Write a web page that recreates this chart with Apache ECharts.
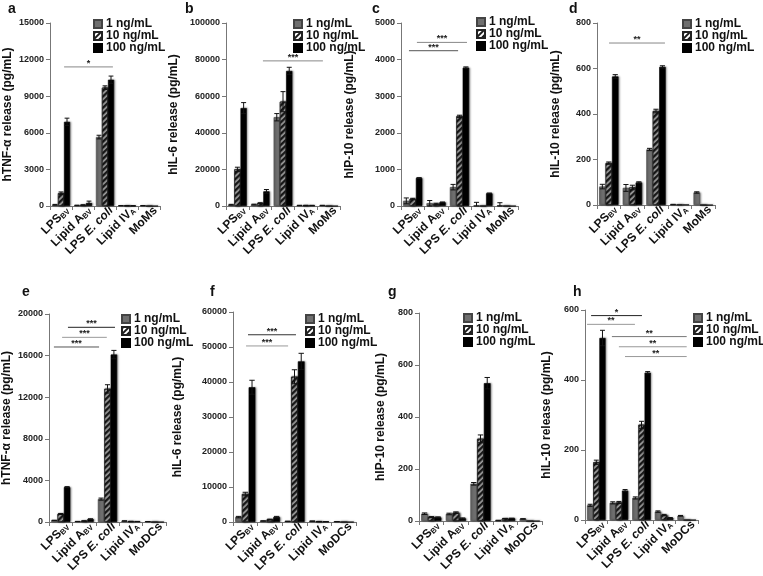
<!DOCTYPE html>
<html><head><meta charset="utf-8">
<script src="https://cdn.jsdelivr.net/npm/echarts@6/dist/echarts.min.js"></script>
<style>html,body{margin:0;padding:0;background:#fff}#c{width:763px;height:576px}</style>
</head><body><div id="c"></div><script>
// ---------- DATA ----------
const catsMoM = ['LPS BV', 'Lipid A BV', 'LPS E. coli', 'Lipid IV A', 'MoMs'];
const catsMoDC = ['LPS BV', 'Lipid A BV', 'LPS E. coli', 'Lipid IV A', 'MoDCs'];
const doseNames = ['1 ng/mL', '10 ng/mL', '100 ng/mL'];
const panelLetters = ['a', 'b', 'c', 'd', 'e', 'f', 'g', 'h'];
const yTitles = ['hTNF-α release (pg/mL)', 'hIL-6 release (pg/mL)', 'hIP-10 release (pg/mL)', 'hIL-10 release (pg/mL)',
                 'hTNF-α release (pg/mL)', 'hIL-6 release (pg/mL)', 'hIP-10 release (pg/mL)', 'hIL-10 release (pg/mL)'];
const yMax = [15000, 100000, 5000, 800, 20000, 60000, 800, 600];
const yStep = [3000, 20000, 1000, 200, 4000, 10000, 200, 200];

// a: TNF-a, MoMs
const a1 = [100, 50, 5650, 30, 30];      const a1e = [30, 20, 150, 10, 10];
const a10 = [1050, 80, 9700, 30, 0];     const a10e = [100, 20, 150, 10, 0];
const a100 = [6900, 250, 10350, 20, 0];  const a100e = [300, 150, 300, 10, 0];
const aSig = [[0.14, 2.36, 11400, '*']];
// b: IL-6, MoMs
const b1 = [700, 800, 48500, 300, 300];   const b1e = [200, 200, 2000, 100, 100];
const b10 = [20000, 1500, 57000, 300, 0]; const b10e = [1200, 300, 5500, 100, 0];
const b100 = [53500, 8000, 73800, 300, 0];const b100e = [3000, 1000, 2000, 100, 0];
const bSig = [[1.12, 3.75, 79300, '***']];
// c: IP-10, MoMs
const c1 = [140, 75, 515, 10, 20];    const c1e = [80, 75, 75, 90, 70];
const c10 = [190, 55, 2450, 0, 0];    const c10e = [20, 20, 30, 0, 0];
const c100 = [765, 100, 3780, 345, 0];const c100e = [10, 10, 20, 10, 0];
const cSig = [[0.18, 2.32, 4470, '***'], [-0.16, 1.94, 4243, '***']];
// d: IL-10, MoMs
const d1 = [81, 75, 244, 2, 55];   const d1e = [10, 15, 5, 1, 3];
const d10 = [184, 77, 413, 2, 0];  const d10e = [5, 10, 8, 0, 0];
const d100 = [565, 99, 607, 2, 0]; const d100e = [8, 3, 5, 0, 0];
const dSig = [[0.01, 2.38, 712, '**']];
// e: TNF-a, MoDCs
const e1 = [150, 50, 2200, 100, 40];     const e1e = [20, 10, 100, 10, 5];
const e10 = [770, 100, 12800, 60, 0];    const e10e = [50, 20, 400, 10, 0];
const e100 = [3350, 280, 16100, 50, 0];  const e100e = [50, 30, 400, 10, 0];
const eSig = [[0.31, 2.32, 18720, '***'], [0.06, 1.97, 17756, '***'], [-0.29, 1.64, 16827, '***']];
// f: IL-6, MoDCs
const f1 = [1400, 300, 200, 250, 100];    const f1e = [200, 50, 50, 50, 20];
const f10 = [8000, 700, 41500, 150, 0];   const f10e = [500, 100, 2000, 20, 0];
const f100 = [38500, 1400, 45900, 100, 0];const f100e = [2000, 200, 2300, 20, 0];
const fSig = [[0.11, 2.06, 53500, '***'], [0.03, 1.74, 50300, '***']];
// g: IP-10, MoDCs
const g1 = [28, 27, 143, 2, 8];    const g1e = [3, 3, 5, 1, 1];
const g10 = [15, 32, 316, 9, 0];   const g10e = [2, 3, 15, 1, 0];
const g100 = [14, 10, 530, 10, 0]; const g100e = [2, 2, 22, 1, 0];
const gSig = [];
// h: IL-10, MoDCs
const h1 = [42, 49, 63, 24, 12];   const h1e = [3, 3, 3, 2, 1];
const h10 = [165, 50, 272, 14, 0]; const h10e = [6, 3, 10, 2, 0];
const h100 = [520, 84, 421, 6, 0]; const h100e = [22, 3, 3, 1, 0];
const hSig = [[-0.23, 2.02, 584, '*'], [-0.41, 1.71, 559, '**'], [0.69, 4.0, 524, '**'], [1.0, 4.0, 495, '**'], [1.27, 4.0, 467, '**']];

// ---------- LAYOUT / STYLE ----------
const FONT = '"Liberation Sans", Arial, sans-serif';
const layout = [
  {grid: {left: 50, top: 23, width: 110, height: 183}, gap: 36, leg: [93, 18], let: [8, 2], sigC: ['#888']},
  {grid: {left: 226, top: 23, width: 114, height: 183}, gap: 46, leg: [293, 18], let: [185, 2], sigC: ['#888']},
  {grid: {left: 401, top: 23, width: 117, height: 183}, gap: 45, leg: [476, 16], let: [372, 2], sigC: ['#888', '#555']},
  {grid: {left: 597, top: 23, width: 118, height: 182}, gap: 35, leg: [682, 18], let: [569, 2], sigC: ['#888']},
  {grid: {left: 49, top: 314, width: 117, height: 208}, gap: 36, leg: [121, 313], let: [22, 285], sigC: ['#222', '#999', '#555']},
  {grid: {left: 233, top: 312, width: 123, height: 210}, gap: 49, leg: [305, 313], let: [210, 285], sigC: ['#333', '#999']},
  {grid: {left: 419, top: 313, width: 123, height: 208}, gap: 32, leg: [463, 312], let: [388, 285], sigC: []},
  {grid: {left: 585, top: 310, width: 113, height: 210}, gap: 32, leg: [693, 312], let: [573, 285], sigC: ['#222', '#999', '#777', '#999', '#999']}
];
const vals = [[a1, a10, a100], [b1, b10, b100], [c1, c10, c100], [d1, d10, d100], [e1, e10, e100], [f1, f10, f100], [g1, g10, g100], [h1, h10, h100]];
const errs = [[a1e, a10e, a100e], [b1e, b10e, b100e], [c1e, c10e, c100e], [d1e, d10e, d100e], [e1e, e10e, e100e], [f1e, f10e, f100e], [g1e, g10e, g100e], [h1e, h10e, h100e]];
const sigs = [aSig, bSig, cSig, dSig, eSig, fSig, gSig, hSig];
const cats = [catsMoM, catsMoM, catsMoM, catsMoM, catsMoDC, catsMoDC, catsMoDC, catsMoDC];

const labelRich = {
  'LPS BV': '{m|LPS}{s|BV}',
  'Lipid A BV': '{m|Lipid A}{s|BV}',
  'LPS E. coli': '{m|LPS }{i|E. coli}',
  'Lipid IV A': '{m|Lipid IV}{s|A}',
  'MoMs': '{m|MoMs}',
  'MoDCs': '{m|MoDCs}'
};
const rich = {
  m: {fontFamily: FONT, fontWeight: 'bold', fontSize: 12, color: '#111'},
  s: {fontFamily: FONT, fontWeight: 'bold', fontSize: 7.5, color: '#111', padding: [5, 0, 0, 0]},
  i: {fontFamily: FONT, fontWeight: 'bold', fontStyle: 'italic', fontSize: 12, color: '#111'}
};
const BAR_FRAC = 0.82;
const barStyles = [
  {color: '#6f6f6f', borderColor: '#444', borderWidth: 0.6, shadowBlur: 2, shadowColor: 'rgba(0,0,0,0.45)', shadowOffsetX: 1},
  {color: '#ffffff', borderColor: '#222', borderWidth: 0.6, shadowBlur: 2, shadowColor: 'rgba(0,0,0,0.45)', shadowOffsetX: 1,
   decal: {symbol: 'rect', symbolSize: 1, color: '#1a1a1a', dashArrayX: [1, 0], dashArrayY: [1.6, 1.6], rotation: -Math.PI / 4}},
  {color: '#000000', borderColor: '#000', borderWidth: 0.6, shadowBlur: 2, shadowColor: 'rgba(0,0,0,0.45)', shadowOffsetX: 1}
];

const grid = [], xAxis = [], yAxis = [], series = [], legend = [], title = [];
layout.forEach((L, gi) => {
  grid.push(Object.assign({containLabel: false}, L.grid));
  xAxis.push({
    type: 'category', gridIndex: gi, data: cats[gi],
    axisLine: {lineStyle: {color: '#777', width: 1}},
    axisTick: {show: true, length: 4, lineStyle: {color: '#777'}},
    axisLabel: {interval: 0, rotate: 45, margin: 9, padding: [0, -9, 0, 0], formatter: v => labelRich[v] || v, rich: rich}
  });
  yAxis.push({
    type: 'value', gridIndex: gi, min: 0, max: yMax[gi], interval: yStep[gi],
    name: yTitles[gi], nameLocation: 'middle', nameGap: L.gap,
    nameTextStyle: {fontFamily: FONT, fontWeight: 'bold', fontSize: 12, color: '#111'},
    axisLine: {show: true, lineStyle: {color: '#777', width: 1}},
    axisTick: {show: true, length: 4, lineStyle: {color: '#777'}},
    splitLine: {show: false},
    axisLabel: {fontFamily: FONT, fontWeight: 'bold', fontSize: 9, color: '#222', margin: 6, formatter: v => String(v)}
  });
  for (let k = 0; k < 3; k++) {
    series.push({
      type: 'bar', name: doseNames[k], xAxisIndex: gi, yAxisIndex: gi,
      data: vals[gi][k], barGap: '0%', barCategoryGap: ((1 - BAR_FRAC) * 100) + '%',
      itemStyle: barStyles[k], emphasis: {disabled: true}, z: 2
    });
  }
  const errData = [];
  for (let k = 0; k < 3; k++) {
    vals[gi][k].forEach((v, i) => errData.push([i, v, errs[gi][k][i], k]));
  }
  series.push({
    type: 'custom', name: 'err' + gi, xAxisIndex: gi, yAxisIndex: gi, z: 4,
    encode: {x: 0, y: 1}, data: errData, silent: true,
    renderItem: function (params, api) {
      const i = api.value(0), v = api.value(1), e = api.value(2), k = api.value(3);
      if (!e) return null;
      const c = api.coord([i, v]);
      const bw = api.size([1, 0])[0];
      const barW = bw * BAR_FRAC / 3;
      const x = c[0] + (k - 1) * barW;
      const top = api.coord([i, v + e])[1];
      const bot = api.coord([i, Math.max(0, v - e)])[1];
      const cap = barW * 0.4;
      const st = {stroke: '#111', lineWidth: 1};
      return {type: 'group', children: [
        {type: 'line', shape: {x1: x, y1: top, x2: x, y2: bot}, style: st},
        {type: 'line', shape: {x1: x - cap, y1: top, x2: x + cap, y2: top}, style: st},
        {type: 'line', shape: {x1: x - cap, y1: bot, x2: x + cap, y2: bot}, style: st}
      ]};
    }
  });
  if (sigs[gi].length) {
    const sg = sigs[gi];
    series.push({
      type: 'custom', name: 'sig' + gi, xAxisIndex: gi, yAxisIndex: gi, z: 5, clip: false,
      encode: {x: 0, y: 3}, data: sg.map(s => [0, s[0], s[1], s[2]]), silent: true,
      renderItem: function (params, api) {
        const x1 = api.value(1), x2 = api.value(2), y = api.value(3);
        const p0 = api.coord([0, y]);
        const bw = api.size([1, 0])[0];
        const px1 = p0[0] + x1 * bw, px2 = p0[0] + x2 * bw;
        const col = L.sigC[params.dataIndex] || '#888';
        return {type: 'group', children: [
          {type: 'line', shape: {x1: px1, y1: p0[1], x2: px2, y2: p0[1]}, style: {stroke: col, lineWidth: 1}},
          {type: 'text', style: {text: sg[params.dataIndex][3], x: (px1 + px2) / 2, y: p0[1] + 1, align: 'center', verticalAlign: 'bottom',
            font: 'bold 9px ' + FONT, fill: '#222'}}
        ]};
      }
    });
  }
  legend.push({
    data: doseNames, orient: 'vertical', left: L.leg[0], top: L.leg[1], padding: 0,
    itemWidth: 8, itemHeight: 8, itemGap: 0, icon: 'rect', selectedMode: false,
    textStyle: {fontFamily: FONT, fontWeight: 'bold', fontSize: 12, color: '#111', lineHeight: 9, padding: [0, 0, 0, -1]}
  });
  title.push({text: panelLetters[gi], left: L.let[0], top: L.let[1], padding: 0,
    textStyle: {fontFamily: FONT, fontWeight: 'bold', fontSize: 14, color: '#111'}});
});

const chart = echarts.init(document.getElementById('c'), null, {renderer: 'canvas'});
chart.setOption({animation: false, backgroundColor: '#fff', title, legend, grid, xAxis, yAxis, series});
</script></body></html>
